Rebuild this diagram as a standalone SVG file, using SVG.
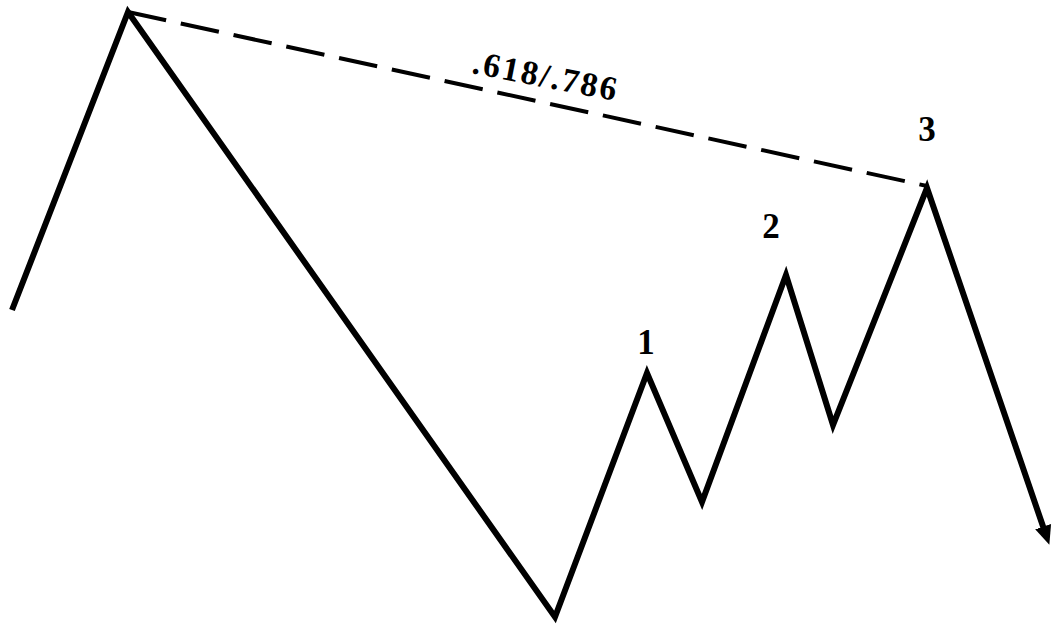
<svg xmlns="http://www.w3.org/2000/svg" width="1055" height="626" viewBox="0 0 1055 626">
<style>
.wave{fill:none;stroke:#000;stroke-width:6;stroke-linejoin:miter;stroke-miterlimit:10}
.dash{fill:none;stroke:#000;stroke-width:4;stroke-dasharray:39 15}
.lbl{font-family:"Liberation Serif",serif;font-weight:bold;fill:#000}
</style>
<defs>
<marker id="ah" markerWidth="4" markerHeight="4" refX="2" refY="2" orient="auto" markerUnits="strokeWidth">
<path d="M0,0.6 L3.2,2 L0,3.4 Z" fill="#000"/>
</marker>
</defs>
<rect width="1055" height="626" fill="#fff"/>
<g id="connectors">
<path class="dash" d="M128,12 L927,186"/>
<path class="wave" d="M12,310 L128,12 L555,617 L647,373 L702,502 L786,275 L833,425 L927,188 L1047,538" marker-end="url(#ah)"/>
</g>
<g id="label-ratio"><text class="lbl" x="471" y="73" font-size="34" textLength="146" lengthAdjust="spacing" transform="rotate(11 471 73)">.618/.786</text></g>
<g id="label-1"><text class="lbl" x="646" y="354" font-size="35" text-anchor="middle">1</text></g>
<g id="label-2"><text class="lbl" x="771" y="238" font-size="35" text-anchor="middle">2</text></g>
<g id="label-3"><text class="lbl" x="927" y="141" font-size="35" text-anchor="middle">3</text></g>
</svg>
